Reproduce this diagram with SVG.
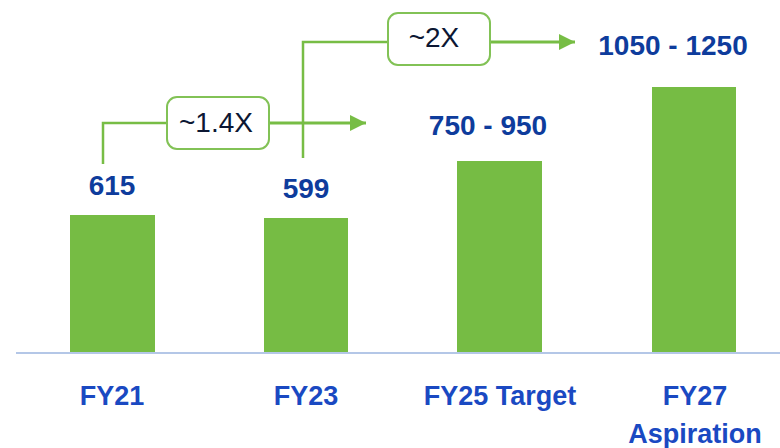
<svg xmlns="http://www.w3.org/2000/svg" width="780" height="448" viewBox="0 0 780 448">
<defs>
<style>
.bar{fill:#76bc44}
.val{font-family:"Liberation Sans",Arial,sans-serif;font-weight:bold;font-size:28px;fill:#0e3c9c;text-anchor:middle}
.cat{font-family:"Liberation Sans",Arial,sans-serif;font-weight:bold;font-size:27px;fill:#1a49c2;text-anchor:middle}
.conn{fill:none;stroke:#77bd45;stroke-width:2.5}
.box{fill:#ffffff;stroke:#82c256;stroke-width:2}
.lbl{font-family:"Liberation Sans",Arial,sans-serif;font-size:28px;fill:#0c1733;text-anchor:middle}
</style>
<marker id="arr" markerWidth="16" markerHeight="16" refX="16" refY="8" orient="auto" markerUnits="userSpaceOnUse" viewBox="0 0 16 16">
<path d="M0,0 L16,8 L0,16 Z" fill="#77bd45"/>
</marker>
</defs>
<rect width="780" height="448" fill="#ffffff"/>
<line x1="16" y1="353" x2="780" y2="353" stroke="#b4c7e7" stroke-width="2"/>
<g id="fy21">
<rect class="bar" x="70" y="215" width="85" height="137"/>
<text class="val" x="112" y="195">615</text>
<text class="cat" x="112" y="405">FY21</text>
</g>
<g id="fy23">
<rect class="bar" x="264" y="218" width="84" height="134"/>
<text class="val" x="306" y="198">599</text>
<text class="cat" x="306" y="405">FY23</text>
</g>
<g id="fy25">
<rect class="bar" x="457" y="161" width="85" height="191"/>
<text class="val" x="488" y="135">750 - 950</text>
<text class="cat" x="500" y="405">FY25 Target</text>
</g>
<g id="fy27">
<rect class="bar" x="652" y="87" width="84" height="265"/>
<text class="val" x="673" y="55">1050 - 1250</text>
<text class="cat" x="695" y="405">FY27</text>
<text class="cat" x="695" y="443">Aspiration</text>
</g>
<g id="connectors">
<path class="conn" d="M103,164 V123 H167" stroke-width="2"/>
<path class="conn" d="M269,123 H366" marker-end="url(#arr)" style="stroke-width:3"/>
<path class="conn" d="M303,158 V42 H387" stroke-width="2"/>
<path class="conn" d="M490,42 H575" marker-end="url(#arr)" style="stroke-width:3"/>
</g>
<g id="growth14">
<rect class="box" x="167" y="97" width="102" height="52" rx="10"/>
<text class="lbl" x="216" y="132">~1.4X</text>
</g>
<g id="growth2">
<rect class="box" x="388" y="13" width="102" height="52" rx="10"/>
<text class="lbl" x="434" y="47">~2X</text>
</g>
</svg>
